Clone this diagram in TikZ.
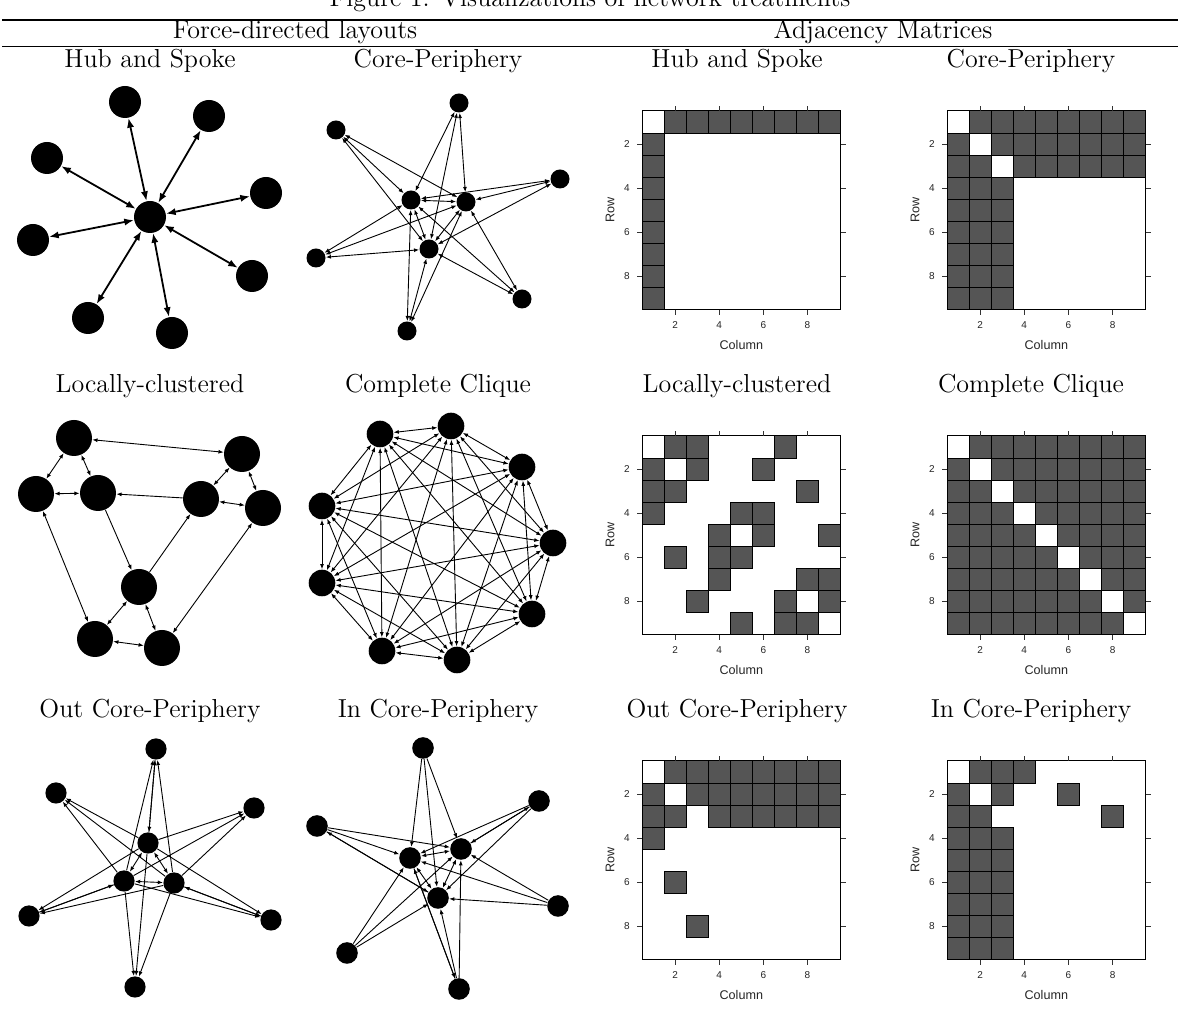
\documentclass[tikz,border=0pt]{standalone}
\usepackage{fontspec}
\newfontfamily\axisfont{Liberation Sans}
\usetikzlibrary{arrows.meta}
\definecolor{cellgray}{RGB}{85,85,85}
\newcommand{\cellw}{22.07}
\tikzset{
  heading/.style={font=\fontsize{13}{15}\selectfont,anchor=base,inner sep=0pt},
  vertex/.style={circle,fill=black,inner sep=0pt,minimum size=#1},
  spoke/.style={{Latex[length=4.8pt,width=3.6pt]}-{Latex[length=4.8pt,width=3.6pt]},line width=0.9pt},
  tie/.style={{Latex[length=2.6pt,width=2pt]}-{Latex[length=2.6pt,width=2pt]},line width=0.45pt},
  tieto/.style={-{Latex[length=2.6pt,width=2pt]},line width=0.45pt},
  cell/.style={fill=cellgray,draw=black,line width=0.5pt},
  panel/.style={draw=black,line width=0.5pt},
  axistick/.style={draw=black!80,line width=0.5pt},
  ticklabel/.style={font={\axisfont\fontsize{5}{6}\selectfont},text=black!85,inner sep=0pt},
  axislabel/.style={font={\axisfont\fontsize{6.3}{7}\selectfont},text=black!85,inner sep=0pt}
}
% adjacency panel: name, top-left corner, filled cells as row/{columns}
\newcommand{\adjpanel}[4]{%
  \begin{scope}[shift={(#2,#3)}]
    \foreach \ri/\cilist in {#4}
      \foreach \ci in \cilist
        \draw[cell] ({(\ci-1)*\cellw},{(\ri-1)*\cellw}) rectangle ++(\cellw,\cellw);
    \draw[panel] (0,0) rectangle ({9*\cellw},{9*\cellw});
    \foreach \tk in {2,4,6,8} {
      \draw[axistick] ({(\tk-0.5)*\cellw},0) -- ++(0,-5);
      \draw[axistick] ({(\tk-0.5)*\cellw},{9*\cellw}) -- ++(0,5);
      \draw[axistick] (0,{(\tk-0.5)*\cellw}) -- ++(-5,0);
      \draw[axistick] ({9*\cellw},{(\tk-0.5)*\cellw}) -- ++(5,0);
      \node[ticklabel] (#1-x\tk) at ({(\tk-0.5)*\cellw},{9*\cellw+15}) {\tk};
      \node[ticklabel] (#1-y\tk) at (-15,{(\tk-0.5)*\cellw}) {\tk};
    }
    \node[axislabel] (#1-xlab) at ({4.5*\cellw},{9*\cellw+35}) {Column};
    \node[axislabel,rotate=90] (#1-ylab) at (-32,{4.5*\cellw}) {Row};
  \end{scope}}

\begin{document}
\begin{tikzpicture}[x=0.5pt,y=-0.5pt]
  \path[use as bounding box,fill=white] (0,0) rectangle (1180,1015);

  % caption, rules and column headings
  \node[heading] (figcap) at (590,7) {Figure 1: Visualizations of network treatments};
  \draw[line width=0.8pt] (2,20) -- (1178,20);
  \node[heading] (hdforce) at (295,39) {Force-directed layouts};
  \node[heading] (hdadj) at (883,39) {Adjacency Matrices};
  \draw[line width=0.5pt] (2,47) -- (1178,47);

  \node[heading] (t11) at (150,68) {Hub and Spoke};
  \node[heading] (t12) at (438,68) {Core-Periphery};
  \node[heading] (t13) at (737,68) {Hub and Spoke};
  \node[heading] (t14) at (1031,68) {Core-Periphery};
  \node[heading] (t21) at (150,393) {Locally-clustered};
  \node[heading] (t22) at (438,393) {Complete Clique};
  \node[heading] (t23) at (737,393) {Locally-clustered};
  \node[heading] (t24) at (1031,393) {Complete Clique};
  \node[heading] (t31) at (150,718) {Out Core-Periphery};
  \node[heading] (t32) at (438,718) {In Core-Periphery};
  \node[heading] (t33) at (737,718) {Out Core-Periphery};
  \node[heading] (t34) at (1031,718) {In Core-Periphery};

  % hub and spoke
  \foreach \n/\x/\y in {h0/150/217, h1/125/102, h2/209/116, h3/47/158, h4/266/193,
                        h5/33/240, h6/252/276, h7/88/318, h8/172/333}
    \node[vertex=16pt] (\n) at (\x,\y) {};
  \foreach \n in {h1,h2,h3,h4,h5,h6,h7,h8}
    \draw[spoke] (h0) -- (\n);

  % core-periphery
  \foreach \n/\x/\y in {cp1/411/200, cp2/466/202, cp3/429/249, cp4/459/103, cp5/336/130,
                        cp6/560/179, cp7/316/258, cp8/522/299, cp9/407/331}
    \node[vertex=9.5pt] (\n) at (\x,\y) {};
  \draw[tie] (cp1) -- (cp2);
  \draw[tie] (cp1) -- (cp3);
  \draw[tie] (cp2) -- (cp3);
  \foreach \c in {1,2,3}
    \foreach \p in {4,...,9}
      \draw[tie] (cp\c) -- (cp\p);

  % locally clustered
  \foreach \n/\x/\y in {lc1/74/438, lc2/242/454, lc3/36/494, lc4/98/493, lc5/201/499,
                        lc6/263/508, lc7/139/587, lc8/95/639, lc9/162/648}
    \node[vertex=18pt] (\n) at (\x,\y) {};
  \foreach \a/\b in {1/2,1/3,1/4,3/4,2/5,2/6,5/6,3/8,6/9,7/8,7/9,8/9}
    \draw[tie] (lc\a) -- (lc\b);
  \foreach \a/\b in {5/4,4/7,7/5}
    \draw[tieto] (lc\a) -- (lc\b);

  % complete clique
  \foreach \n/\x/\y in {k1/380/434, k2/451/426, k3/522/467, k4/322/506, k5/553/543,
                        k6/322/583, k7/532/614, k8/382/651, k9/457/660}
    \node[vertex=13.3pt] (\n) at (\x,\y) {};
  \foreach \i in {1,...,8} {
    \pgfmathtruncatemacro\nxt{\i+1}
    \foreach \j in {\nxt,...,9}
      \draw[tie] (k\i) -- (k\j);
  }

  % out core-periphery
  \foreach \n/\x/\y in {oc1/148/843, oc2/124/881, oc3/174/883, oc4/156/749, oc5/56/793,
                        oc6/254/808, oc7/29/916, oc8/271/920, oc9/135/987}
    \node[vertex=10.6pt] (\n) at (\x,\y) {};
  \draw[tie] (oc1) -- (oc2);
  \draw[tie] (oc1) -- (oc3);
  \draw[tie] (oc2) -- (oc3);
  \foreach \c in {1,2,3}
    \foreach \p in {4,...,9}
      \draw[tieto] (oc\c) -- (oc\p);
  \foreach \p/\c in {4/1,7/2,8/3}
    \draw[tieto] (oc\p) -- (oc\c);

  % in core-periphery
  \foreach \n/\x/\y in {ic1/410/858, ic2/461/849, ic3/438/898, ic4/423/748, ic5/539/801,
                        ic6/317/826, ic7/558/906, ic8/347/953, ic9/459/989}
    \node[vertex=10.8pt] (\n) at (\x,\y) {};
  \draw[tie] (ic1) -- (ic2);
  \draw[tie] (ic1) -- (ic3);
  \draw[tie] (ic2) -- (ic3);
  \foreach \c in {1,2,3}
    \foreach \p in {4,...,9}
      \draw[tieto] (ic\p) -- (ic\c);
  \foreach \c/\p in {1/9,3/6,2/5}
    \draw[tieto] (ic\c) -- (ic\p);

  % adjacency matrices
  \adjpanel{mhub}{642}{111}{1/{2,3,4,5,6,7,8,9},2/{1},3/{1},4/{1},5/{1},6/{1},7/{1},8/{1},9/{1}}
  \adjpanel{mcp}{947}{111}{1/{2,3,4,5,6,7,8,9},2/{1,3,4,5,6,7,8,9},3/{1,2,4,5,6,7,8,9},
    4/{1,2,3},5/{1,2,3},6/{1,2,3},7/{1,2,3},8/{1,2,3},9/{1,2,3}}
  \adjpanel{mlc}{642}{436}{1/{2,3,7},2/{1,3,6},3/{1,2,8},4/{1,5,6},5/{4,6,9},
    6/{2,4,5},7/{4,8,9},8/{3,7,9},9/{5,7,8}}
  \adjpanel{mcl}{947}{436}{1/{2,3,4,5,6,7,8,9},2/{1,3,4,5,6,7,8,9},3/{1,2,4,5,6,7,8,9},
    4/{1,2,3,5,6,7,8,9},5/{1,2,3,4,6,7,8,9},6/{1,2,3,4,5,7,8,9},7/{1,2,3,4,5,6,8,9},
    8/{1,2,3,4,5,6,7,9},9/{1,2,3,4,5,6,7,8}}
  \adjpanel{mout}{642}{761}{1/{2,3,4,5,6,7,8,9},2/{1,3,4,5,6,7,8,9},3/{1,2,4,5,6,7,8,9},
    4/{1},6/{2},8/{3}}
  \adjpanel{min}{947}{761}{1/{2,3,4},2/{1,3,6},3/{1,2,8},4/{1,2,3},5/{1,2,3},
    6/{1,2,3},7/{1,2,3},8/{1,2,3},9/{1,2,3}}
\end{tikzpicture}
\end{document}
